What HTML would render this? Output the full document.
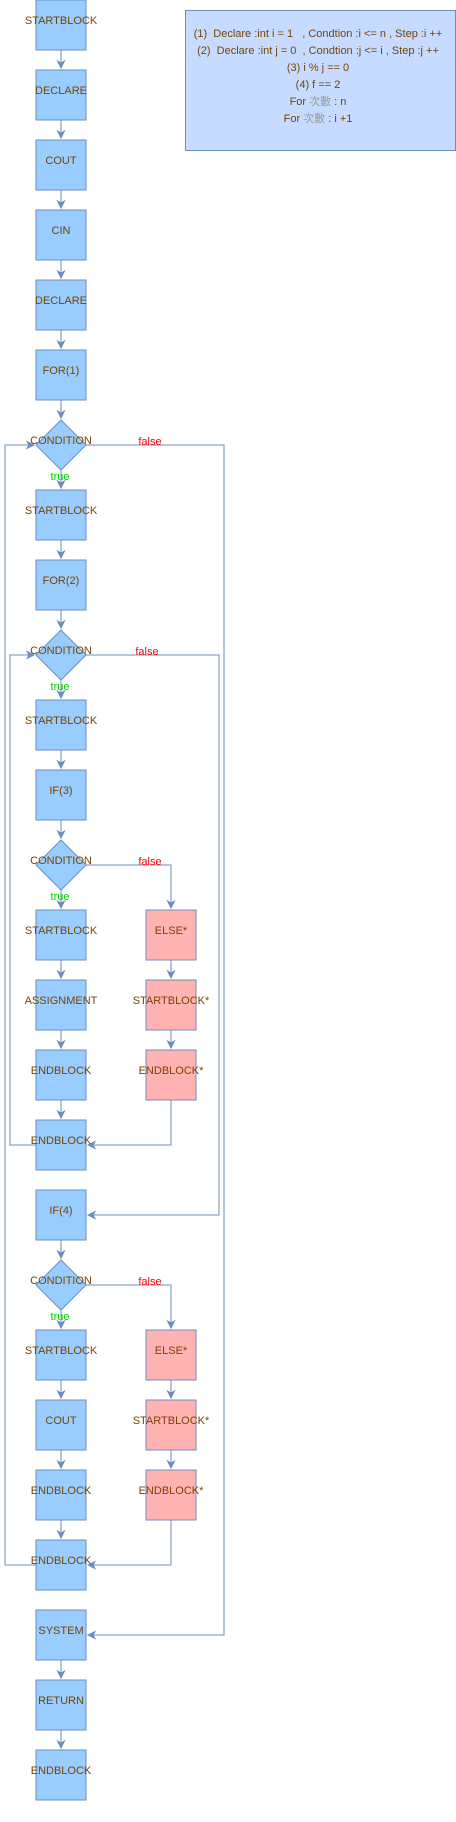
<!DOCTYPE html>
<html><head><meta charset="utf-8"><style>
html,body{margin:0;padding:0;background:#fff;}
svg{display:block;}
text{font-family:"Liberation Sans","Noto Sans CJK TC",sans-serif;font-size:11px;}
</style></head><body>
<svg width="456" height="1822" viewBox="0 0 456 1822" xmlns="http://www.w3.org/2000/svg">
<defs>
<marker id="a" markerWidth="10" markerHeight="10" refX="8" refY="5" orient="auto" markerUnits="userSpaceOnUse">
<path d="M1,1.5 L8,5 L1,8.5 L3,5 Z" fill="#6c8ebf" stroke="#6c8ebf" stroke-width="1"/>
</marker>
</defs>
<g fill="none" stroke="#6c8ebf" stroke-width="1">
<path d="M61 50V68" marker-end="url(#a)"/>
<path d="M61 120V138" marker-end="url(#a)"/>
<path d="M61 190V208" marker-end="url(#a)"/>
<path d="M61 260V278" marker-end="url(#a)"/>
<path d="M61 330V348" marker-end="url(#a)"/>
<path d="M61 400V418" marker-end="url(#a)"/>
<path d="M61 470V488" marker-end="url(#a)"/>
<path d="M61 540V558" marker-end="url(#a)"/>
<path d="M61 610V628" marker-end="url(#a)"/>
<path d="M61 680V698" marker-end="url(#a)"/>
<path d="M61 750V768" marker-end="url(#a)"/>
<path d="M61 820V838" marker-end="url(#a)"/>
<path d="M61 890V908" marker-end="url(#a)"/>
<path d="M61 960V978" marker-end="url(#a)"/>
<path d="M61 1030V1048" marker-end="url(#a)"/>
<path d="M61 1100V1118" marker-end="url(#a)"/>
<path d="M61 1240V1258" marker-end="url(#a)"/>
<path d="M61 1310V1328" marker-end="url(#a)"/>
<path d="M61 1380V1398" marker-end="url(#a)"/>
<path d="M61 1450V1468" marker-end="url(#a)"/>
<path d="M61 1520V1538" marker-end="url(#a)"/>
<path d="M61 1660V1678" marker-end="url(#a)"/>
<path d="M61 1730V1748" marker-end="url(#a)"/>
<path d="M171 960V978" marker-end="url(#a)"/>
<path d="M171 1030V1048" marker-end="url(#a)"/>
<path d="M171 1380V1398" marker-end="url(#a)"/>
<path d="M171 1450V1468" marker-end="url(#a)"/>
<path d="M86 865H171V908" marker-end="url(#a)"/>
<path d="M171 1100V1145H88" marker-end="url(#a)"/>
<path d="M86 1285H171V1328" marker-end="url(#a)"/>
<path d="M171 1520V1565H88" marker-end="url(#a)"/>
<path d="M36 1145H10V655H34" marker-end="url(#a)"/>
<path d="M86 655H219V1215H88" marker-end="url(#a)"/>
<path d="M36 1565H5V445H34" marker-end="url(#a)"/>
<path d="M86 445H224V1635H88" marker-end="url(#a)"/>
</g>
<g stroke="#6c8ebf" stroke-width="1" fill="#99ccff">
<rect x="36" y="0" width="50" height="50"/>
<rect x="36" y="70" width="50" height="50"/>
<rect x="36" y="140" width="50" height="50"/>
<rect x="36" y="210" width="50" height="50"/>
<rect x="36" y="280" width="50" height="50"/>
<rect x="36" y="350" width="50" height="50"/>
<path d="M61 420L86 445L61 470L36 445Z"/>
<rect x="36" y="490" width="50" height="50"/>
<rect x="36" y="560" width="50" height="50"/>
<path d="M61 630L86 655L61 680L36 655Z"/>
<rect x="36" y="700" width="50" height="50"/>
<rect x="36" y="770" width="50" height="50"/>
<path d="M61 840L86 865L61 890L36 865Z"/>
<rect x="36" y="910" width="50" height="50"/>
<rect x="36" y="980" width="50" height="50"/>
<rect x="36" y="1050" width="50" height="50"/>
<rect x="36" y="1120" width="50" height="50"/>
<rect x="36" y="1190" width="50" height="50"/>
<path d="M61 1260L86 1285L61 1310L36 1285Z"/>
<rect x="36" y="1330" width="50" height="50"/>
<rect x="36" y="1400" width="50" height="50"/>
<rect x="36" y="1470" width="50" height="50"/>
<rect x="36" y="1540" width="50" height="50"/>
<rect x="36" y="1610" width="50" height="50"/>
<rect x="36" y="1680" width="50" height="50"/>
<rect x="36" y="1750" width="50" height="50"/>
</g>
<g stroke="#6c8ebf" stroke-width="1" fill="#ffb3b3">
<rect x="146" y="910" width="50" height="50"/>
<rect x="146" y="980" width="50" height="50"/>
<rect x="146" y="1050" width="50" height="50"/>
<rect x="146" y="1330" width="50" height="50"/>
<rect x="146" y="1400" width="50" height="50"/>
<rect x="146" y="1470" width="50" height="50"/>
</g>
<rect x="185.5" y="10.5" width="270" height="140" fill="#c6dbff" stroke="#6c8ebf"/>
<g fill="#774400" text-anchor="middle">
<text x="61" y="24">STARTBLOCK</text>
<text x="61" y="94">DECLARE</text>
<text x="61" y="164">COUT</text>
<text x="61" y="234">CIN</text>
<text x="61" y="304">DECLARE</text>
<text x="61" y="374">FOR(1)</text>
<text x="61" y="444">CONDITION</text>
<text x="61" y="514">STARTBLOCK</text>
<text x="61" y="584">FOR(2)</text>
<text x="61" y="654">CONDITION</text>
<text x="61" y="724">STARTBLOCK</text>
<text x="61" y="794">IF(3)</text>
<text x="61" y="864">CONDITION</text>
<text x="61" y="934">STARTBLOCK</text>
<text x="61" y="1004">ASSIGNMENT</text>
<text x="61" y="1074">ENDBLOCK</text>
<text x="61" y="1144">ENDBLOCK</text>
<text x="61" y="1214">IF(4)</text>
<text x="61" y="1284">CONDITION</text>
<text x="61" y="1354">STARTBLOCK</text>
<text x="61" y="1424">COUT</text>
<text x="61" y="1494">ENDBLOCK</text>
<text x="61" y="1564">ENDBLOCK</text>
<text x="61" y="1634">SYSTEM</text>
<text x="61" y="1704">RETURN</text>
<text x="61" y="1774">ENDBLOCK</text>
<text x="171" y="934">ELSE*</text>
<text x="171" y="1004">STARTBLOCK*</text>
<text x="171" y="1074">ENDBLOCK*</text>
<text x="171" y="1354">ELSE*</text>
<text x="171" y="1424">STARTBLOCK*</text>
<text x="171" y="1494">ENDBLOCK*</text>
<text x="318" y="37">(1)&#160; Declare :int i = 1 &#160; , Condtion :i &lt;= n , Step :i ++</text>
<text x="318" y="54">(2)&#160; Declare :int j = 0 &#160;, Condtion :j &lt;= i , Step :j ++</text>
<text x="318" y="71">(3) i % j == 0</text>
<text x="318" y="88">(4) f == 2</text>
<text x="318" y="105">For <tspan fill="#999">次數</tspan> : n</text>
<text x="318" y="122">For <tspan fill="#999">次數</tspan> : i +1</text>
</g>
<g text-anchor="middle">
<text x="150" y="445" fill="#ff0000">false</text>
<text x="147" y="655" fill="#ff0000">false</text>
<text x="150" y="865" fill="#ff0000">false</text>
<text x="150" y="1285" fill="#ff0000">false</text>
<text x="60" y="480" fill="#00cc00">true</text>
<text x="60" y="690" fill="#00cc00">true</text>
<text x="60" y="900" fill="#00cc00">true</text>
<text x="60" y="1320" fill="#00cc00">true</text>
</g>
</svg>
</body></html>
